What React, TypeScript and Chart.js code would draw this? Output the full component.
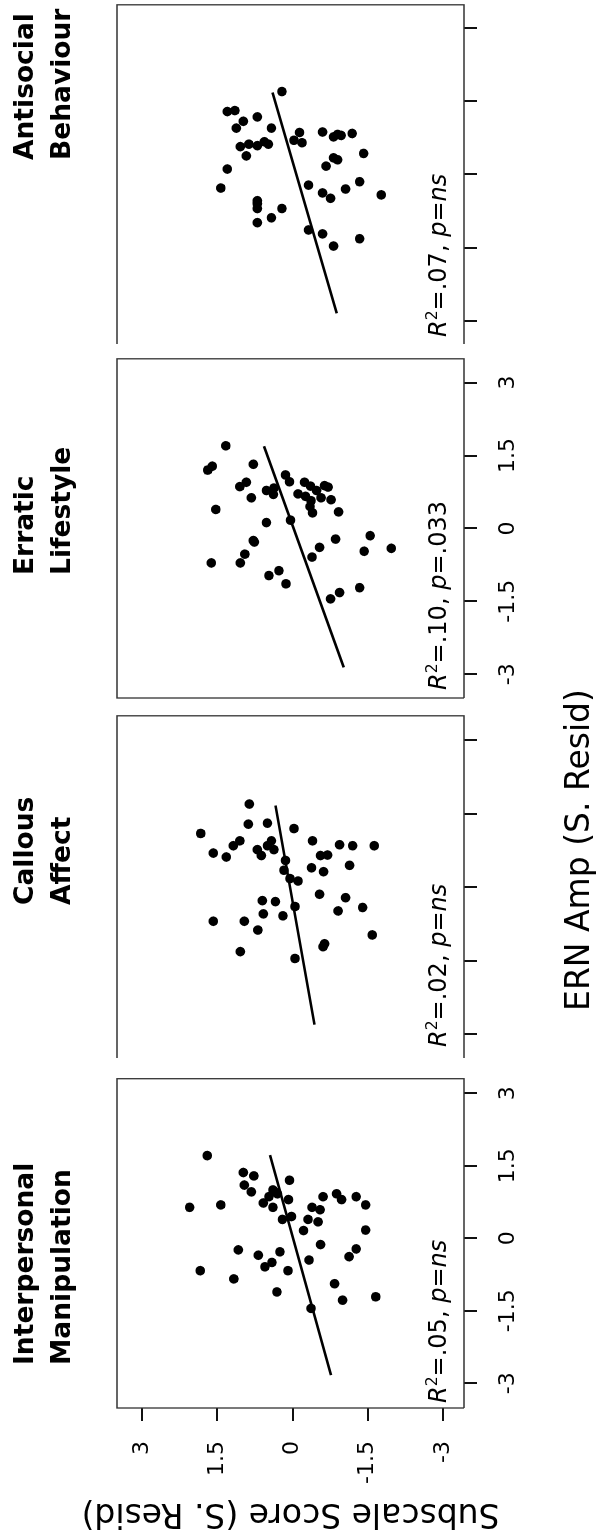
import React, { useEffect, useRef } from "react";
import { Chart, registerables } from "chart.js";

Chart.register(...registerables);

// ---------- data ----------
const ernTicks = [-3, -1.5, 0, 1.5, 3];
const scoreTicks = [-3, -1.5, 0, 1.5, 3];

// Interpersonal Manipulation
const imErn = [1.71, 0.64, 0.69, 1.36, 1.29, 1.10, 0.96, 1.20, 1.00, 0.96, 0.92, 0.86, 0.73, 0.64, 0.80, 0.39, 0.45, 0.86, 0.92, 0.80, 0.86, 0.69, 0.64, 0.59, 0.39, 0.34, 0.16, 0.17, -0.13, -0.22, -0.38, -0.45, -0.67, -0.28, -0.35, -0.50, -0.59, -0.24, -0.67, -0.84, -1.11, -1.45, -0.94, -1.28, -1.21];
const imScore = [1.70, 2.05, 1.43, 0.98, 0.77, 0.96, 0.82, 0.06, 0.39, 0.35, 0.30, 0.47, 0.58, 0.39, 0.08, 0.20, 0.02, -0.61, -0.88, -0.98, -1.27, -1.46, -0.39, -0.55, -0.31, -0.51, -0.22, -1.46, -0.56, -1.27, -1.13, -0.33, 0.09, 0.25, 0.68, 0.41, 0.55, 1.08, 1.84, 1.17, 0.31, -0.37, -0.84, -1.00, -1.66];
const imFitErn = [-2.83, 1.72];
const imFitScore = [-0.77, 0.45];

// Callous Affect
const caErn = [1.70, 1.10, 1.29, 1.31, 1.20, 0.70, 0.62, 0.85, 0.95, 0.77, 0.65, 0.85, 0.95, 0.77, 0.55, 0.35, 0.18, 0.13, 0.95, 0.65, 0.66, 0.87, 0.85, 0.85, 0.40, 0.32, 0.45, -0.14, -0.21, -0.41, -0.48, -0.27, -0.29, -0.54, -0.58, -0.39, -0.69, -0.69, -0.87, -1.31, -1.45, -1.21, -1.15, -0.97];
const caScore = [0.86, 1.83, 0.88, 0.50, -0.03, 1.58, 1.32, 1.18, 1.05, 0.70, 0.62, 0.50, 0.42, 0.37, 0.14, 0.17, 0.05, -0.11, -0.40, -0.56, -0.70, -0.94, -1.20, -1.63, -0.38, -0.62, -1.14, -0.54, -1.06, -1.40, -0.91, 0.60, 0.34, 0.58, 0.19, -0.05, 1.58, 0.96, 0.69, 1.04, -0.05, -0.61, -0.64, -1.59];
const caFitErn = [-2.80, 1.67];
const caFitScore = [-0.44, 0.34];

// Erratic Lifestyle
const elErn = [1.70, 1.20, 1.28, 1.32, 0.39, 0.86, 0.95, 0.63, 0.78, 0.83, 0.70, 1.10, 0.96, 0.17, 0.12, 0.71, 0.95, 0.66, 0.87, 0.57, 0.45, 0.32, 0.78, 0.63, 0.88, 0.85, 0.59, 0.34, -0.28, -0.25, -0.53, -0.71, -0.71, -0.97, -0.87, -1.14, -0.59, -0.39, -0.22, -0.15, -0.47, -0.41, -1.45, -1.32, -1.22];
const elScore = [1.33, 1.69, 1.60, 0.78, 1.53, 1.05, 0.92, 0.82, 0.52, 0.37, 0.38, 0.14, 0.06, 0.04, 0.52, -0.11, -0.24, -0.26, -0.36, -0.37, -0.35, -0.40, -0.48, -0.57, -0.64, -0.71, -0.77, -0.92, 0.76, 0.78, 0.95, 1.04, 1.62, 0.47, 0.27, 0.13, -0.39, -0.54, -0.86, -1.55, -1.43, -1.97, -0.76, -0.94, -1.34];
const elFitErn = [-2.86, 1.69];
const elFitScore = [-1.02, 0.57];

// Antisocial Behaviour
const abErn = [1.70, 1.29, 1.31, 1.09, 1.18, 0.95, 0.95, 0.87, 0.86, 0.70, 0.65, 0.77, 0.82, 0.80, 0.84, 0.57, 0.62, 0.59, 0.67, 0.62, 0.38, 0.11, -0.28, 0.17, 0.34, 0.30, 0.43, -0.22, -0.38, -0.49, -0.30, -0.15, -0.42, -0.54, -0.60, -0.70, -0.70, -0.89, -0.99, -1.14, -1.22, -1.47, -1.32];
const abScore = [0.21, 1.30, 1.15, 0.98, 0.70, 1.12, 0.42, -0.60, -0.14, -0.03, -0.19, -0.82, -0.90, -0.97, -1.19, 1.04, 0.87, 0.70, 0.56, 0.48, 0.92, 1.30, 1.43, -0.67, -0.82, -0.90, -1.42, -0.32, -0.60, -0.76, -1.06, -1.34, -1.77, 0.70, 0.70, 0.70, 0.21, 0.42, 0.70, -0.32, -0.60, -0.82, -1.34];
const abFitErn = [-2.85, 1.68];
const abFitScore = [-0.88, 0.40];

const titles = [
  ["Interpersonal", "Manipulation"],
  ["Callous", "Affect"],
  ["Erratic", "Lifestyle"],
  ["Antisocial", "Behaviour"],
];
const r2Values = [".05", ".02", ".10", ".07"];
const pValues = ["ns", "ns", ".033", "ns"];

// ---------- layout (original, un-rotated figure: 1532 x 607) ----------
const FIG_W = 1532;
const FIG_H = 607;
const BOX_TOP = 117;
const BOX_BOTTOM = 464;
const SCORE_MIN = -3.42;
const SCORE_MAX = 3.5;

type PanelCfg = {
  ern: number[];
  score: number[];
  fitErn: number[];
  fitScore: number[];
  boxLeft: number;
  boxRight: number;
  ernMin: number;
  ernMax: number;
  showErnLabels: boolean;
  showScoreAxis: boolean;
  skipLeft: boolean;
  titleLeft: number;
  noteLeft: number;
};

const panels: PanelCfg[] = [
  { ern: imErn, score: imScore, fitErn: imFitErn, fitScore: imFitScore, boxLeft: 124, boxRight: 460, ernMin: -3.51, ernMax: 3.3, showErnLabels: true, showScoreAxis: true, skipLeft: false, titleLeft: 167, noteLeft: 129 },
  { ern: caErn, score: caScore, fitErn: caFitErn, fitScore: caFitScore, boxLeft: 470, boxRight: 817, ernMin: -3.48, ernMax: 3.5, showErnLabels: false, showScoreAxis: false, skipLeft: true, titleLeft: 627, noteLeft: 485 },
  { ern: elErn, score: elScore, fitErn: elFitErn, fitScore: elFitScore, boxLeft: 830, boxRight: 1174, ernMin: -3.49, ernMax: 3.49, showErnLabels: true, showScoreAxis: false, skipLeft: false, titleLeft: 957, noteLeft: 842 },
  { ern: abErn, score: abScore, fitErn: abFitErn, fitScore: abFitScore, boxLeft: 1184, boxRight: 1530, ernMin: -3.48, ernMax: 3.48, showErnLabels: false, showScoreAxis: false, skipLeft: true, titleLeft: 1372, noteLeft: 1195 },
];

const TEXT_FONT = "'DejaVu Sans', Verdana, sans-serif";

const framePlugin = {
  id: "frame",
  afterDatasetsDraw(chart: any, _args: any, opts: any) {
    const { left, right, top, bottom } = chart.chartArea;
    const ctx = chart.ctx;
    ctx.save();
    ctx.strokeStyle = "#333";
    ctx.lineWidth = 1.3;
    ctx.beginPath();
    ctx.moveTo(left, bottom);
    ctx.lineTo(right, bottom);
    ctx.lineTo(right, top);
    ctx.lineTo(left, top);
    if (!opts.skipLeft) ctx.lineTo(left, bottom);
    ctx.stroke();
    ctx.restore();
  },
};

function fmt(v: number) {
  return String(v);
}

function PanelChart({ cfg }: { cfg: PanelCfg }) {
  const ref = useRef<HTMLCanvasElement>(null);
  const leftAxisW = cfg.showScoreAxis ? cfg.boxLeft : 4;
  const canvasLeft = cfg.boxLeft - leftAxisW;
  const padRight = FIG_W - cfg.boxRight >= 4 ? 4 : FIG_W - cfg.boxRight;
  const canvasW = cfg.boxRight + padRight - canvasLeft;

  useEffect(() => {
    const pts = cfg.ern.map((x, i) => ({ x, y: cfg.score[i] }));
    const fit = cfg.fitErn.map((x, i) => ({ x, y: cfg.fitScore[i] }));
    const chart = new Chart(ref.current as HTMLCanvasElement, {
      type: "scatter",
      data: {
        datasets: [
          {
            data: fit,
            showLine: true,
            borderColor: "#000",
            borderWidth: 2.6,
            pointRadius: 0,
            fill: false,
          } as any,
          {
            data: pts,
            pointRadius: 4.8,
            pointBackgroundColor: "#000",
            pointBorderWidth: 0,
            showLine: false,
          } as any,
        ],
      },
      options: {
        animation: false,
        responsive: false,
        maintainAspectRatio: false,
        events: [],
        layout: {
          padding: {
            top: BOX_TOP,
            left: cfg.showScoreAxis ? 0 : 4,
            right: padRight,
            bottom: 0,
          },
        },
        plugins: {
          legend: { display: false },
          tooltip: { enabled: false },
          frame: { skipLeft: cfg.skipLeft },
        } as any,
        scales: {
          x: {
            type: "linear",
            position: "bottom",
            min: cfg.ernMin,
            max: cfg.ernMax,
            afterBuildTicks: (ax: any) => {
              ax.ticks = ernTicks.map((v) => ({ value: v }));
            },
            afterFit: (s: any) => {
              s.height = FIG_H - BOX_BOTTOM;
            },
            grid: {
              drawOnChartArea: false,
              drawTicks: true,
              tickLength: 13,
              color: "#111",
              lineWidth: 2,
            },
            border: { display: false },
            ticks: {
              display: cfg.showErnLabels,
              autoSkip: false,
              maxRotation: 0,
              minRotation: 0,
              padding: 18,
              color: "#000",
              font: { family: TEXT_FONT, size: 22 },
              callback: (v: any) => fmt(v),
            },
          },
          y: {
            type: "linear",
            display: cfg.showScoreAxis,
            min: SCORE_MIN,
            max: SCORE_MAX,
            afterBuildTicks: (ax: any) => {
              ax.ticks = scoreTicks.map((v) => ({ value: v }));
            },
            afterFit: (s: any) => {
              s.width = leftAxisW;
            },
            grid: {
              drawOnChartArea: false,
              drawTicks: true,
              tickLength: 13,
              color: "#111",
              lineWidth: 2,
            },
            border: { display: false },
            ticks: {
              autoSkip: false,
              padding: 20,
              color: "#000",
              font: { family: TEXT_FONT, size: 22 },
              callback: (v: any) => fmt(v),
            },
            title: {
              display: cfg.showScoreAxis,
              text: "Subscale Score (S. Resid)",
              color: "#000",
              font: { family: TEXT_FONT, size: 33 },
              padding: { top: 0, bottom: 0 },
            },
          },
        },
      },
      plugins: [framePlugin],
    });
    return () => chart.destroy();
  }, [cfg]);

  return (
    <canvas
      ref={ref}
      width={canvasW}
      height={FIG_H}
      style={{ position: "absolute", left: canvasLeft, top: 0, width: canvasW, height: FIG_H }}
    />
  );
}

export default function App() {
  return (
    <div
      style={{
        position: "absolute",
        left: 0,
        top: 0,
        width: FIG_W,
        height: FIG_H,
        background: "#fff",
        transformOrigin: "0 0",
        transform: `translateY(${FIG_W}px) rotate(-90deg)`,
        overflow: "hidden",
      }}
    >
      {panels.map((p, i) => (
        <PanelChart key={i} cfg={p} />
      ))}
      {panels.map((p, i) => (
        <div
          key={"t" + i}
          style={{
            position: "absolute",
            left: p.titleLeft,
            top: 5,
            fontFamily: TEXT_FONT,
            fontWeight: "bold",
            fontSize: 26.5,
            lineHeight: "37px",
            color: "#000",
            whiteSpace: "nowrap",
          }}
        >
          <div>{titles[i][0]}</div>
          <div>{titles[i][1]}</div>
        </div>
      ))}
      {panels.map((p, i) => (
        <div
          key={"n" + i}
          style={{
            position: "absolute",
            left: p.noteLeft,
            top: 426,
            fontFamily: TEXT_FONT,
            fontSize: 24,
            lineHeight: "24px",
            color: "#000",
            whiteSpace: "nowrap",
          }}
        >
          <i>R</i>
          <span style={{ fontSize: "0.65em", position: "relative", top: "-0.6em" }}>2</span>
          {"=" + r2Values[i] + ", "}
          <i>p</i>
          {"="}
          {pValues[i] === "ns" ? <i>ns</i> : pValues[i]}
        </div>
      ))}
      <div
        style={{
          position: "absolute",
          left: 682 - 250,
          width: 500,
          top: 561,
          textAlign: "center",
          fontFamily: TEXT_FONT,
          fontSize: 33,
          lineHeight: "33px",
          color: "#000",
          whiteSpace: "nowrap",
        }}
      >
        ERN Amp (S. Resid)
      </div>
    </div>
  );
}
